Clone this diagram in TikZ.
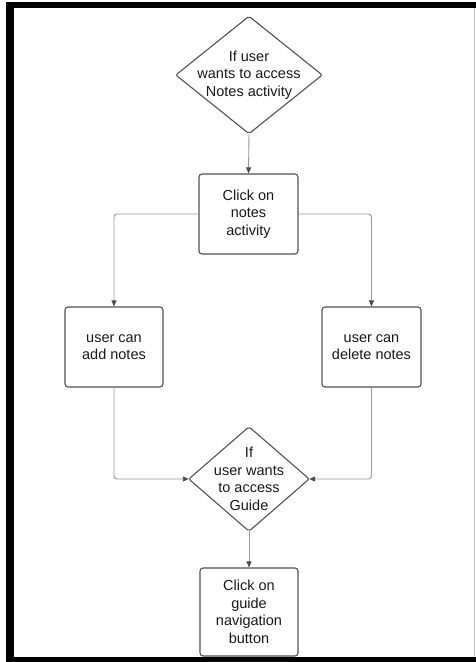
\documentclass[tikz,border=0pt]{standalone}
\usepackage{fontspec}
\setmainfont{Liberation Sans}
\usetikzlibrary{arrows.meta}
\begin{document}
\begin{tikzpicture}[x=1pt,y=1pt,
  every node/.style={font=\fontsize{14.5}{17.5}\selectfont, text=black!90, align=center},
  stepbox/.style={draw=black!68, line width=1.1pt, rounded corners=3pt, inner sep=0pt},
  decide/.style={rectangle, inner sep=0pt},
  outline/.style={draw=black!68, line width=1.1pt, rounded corners=2pt},
  flow/.style={draw=black!40, line width=0.9pt, rounded corners=3pt,
    -{Triangle[length=6pt,width=5pt,fill=black!70,color=black!70]}},
  frameband/.style={fill=black}
]
% page and frame
\useasboundingbox (0,0) rectangle (476,662);
\fill[white] (0,0) rectangle (476,662);
\fill[frameband] (6,0) rectangle (14,660);
\fill[frameband] (6,654) rectangle (476,660);
\fill[frameband] (6,0) rectangle (476,5);
\draw[black!20, line width=1pt] (474.5,5) -- (474.5,654);

% nodes
\node[decide, minimum width=146pt, minimum height=117pt] (d1) at (249,587)
  {If user\\wants to access\\Notes activity};
\node[stepbox, minimum width=99pt, minimum height=80pt] (b1) at (248.5,448)
  {Click on\\notes\\activity};
\node[stepbox, minimum width=98pt, minimum height=80pt] (b2) at (114,315)
  {user can\\add notes};
\node[stepbox, minimum width=99pt, minimum height=80pt] (b3) at (371.5,315)
  {user can\\delete notes};
\node[decide, minimum width=120pt, minimum height=104pt] (d2) at (249,183)
  {If\\user wants\\to access\\Guide};
\node[stepbox, minimum width=98pt, minimum height=88pt] (b4) at (249,50)
  {Click on\\guide\\navigation\\button};

% decision outlines
\draw[outline] (d1.north) -- (d1.east) -- (d1.south) -- (d1.west) -- cycle;
\draw[outline] (d2.north) -- (d2.east) -- (d2.south) -- (d2.west) -- cycle;

% connectors
\draw[flow] (d1.south) -- (b1.north);
\draw[flow] (b1.west) -| (b2.north);
\draw[flow] (b1.east) -| (b3.north);
\draw[flow] (b2.south) |- (d2.west);
\draw[flow] (b3.south) |- (d2.east);
\draw[flow] (d2.south) -- (b4.north);
\end{tikzpicture}
\end{document}
